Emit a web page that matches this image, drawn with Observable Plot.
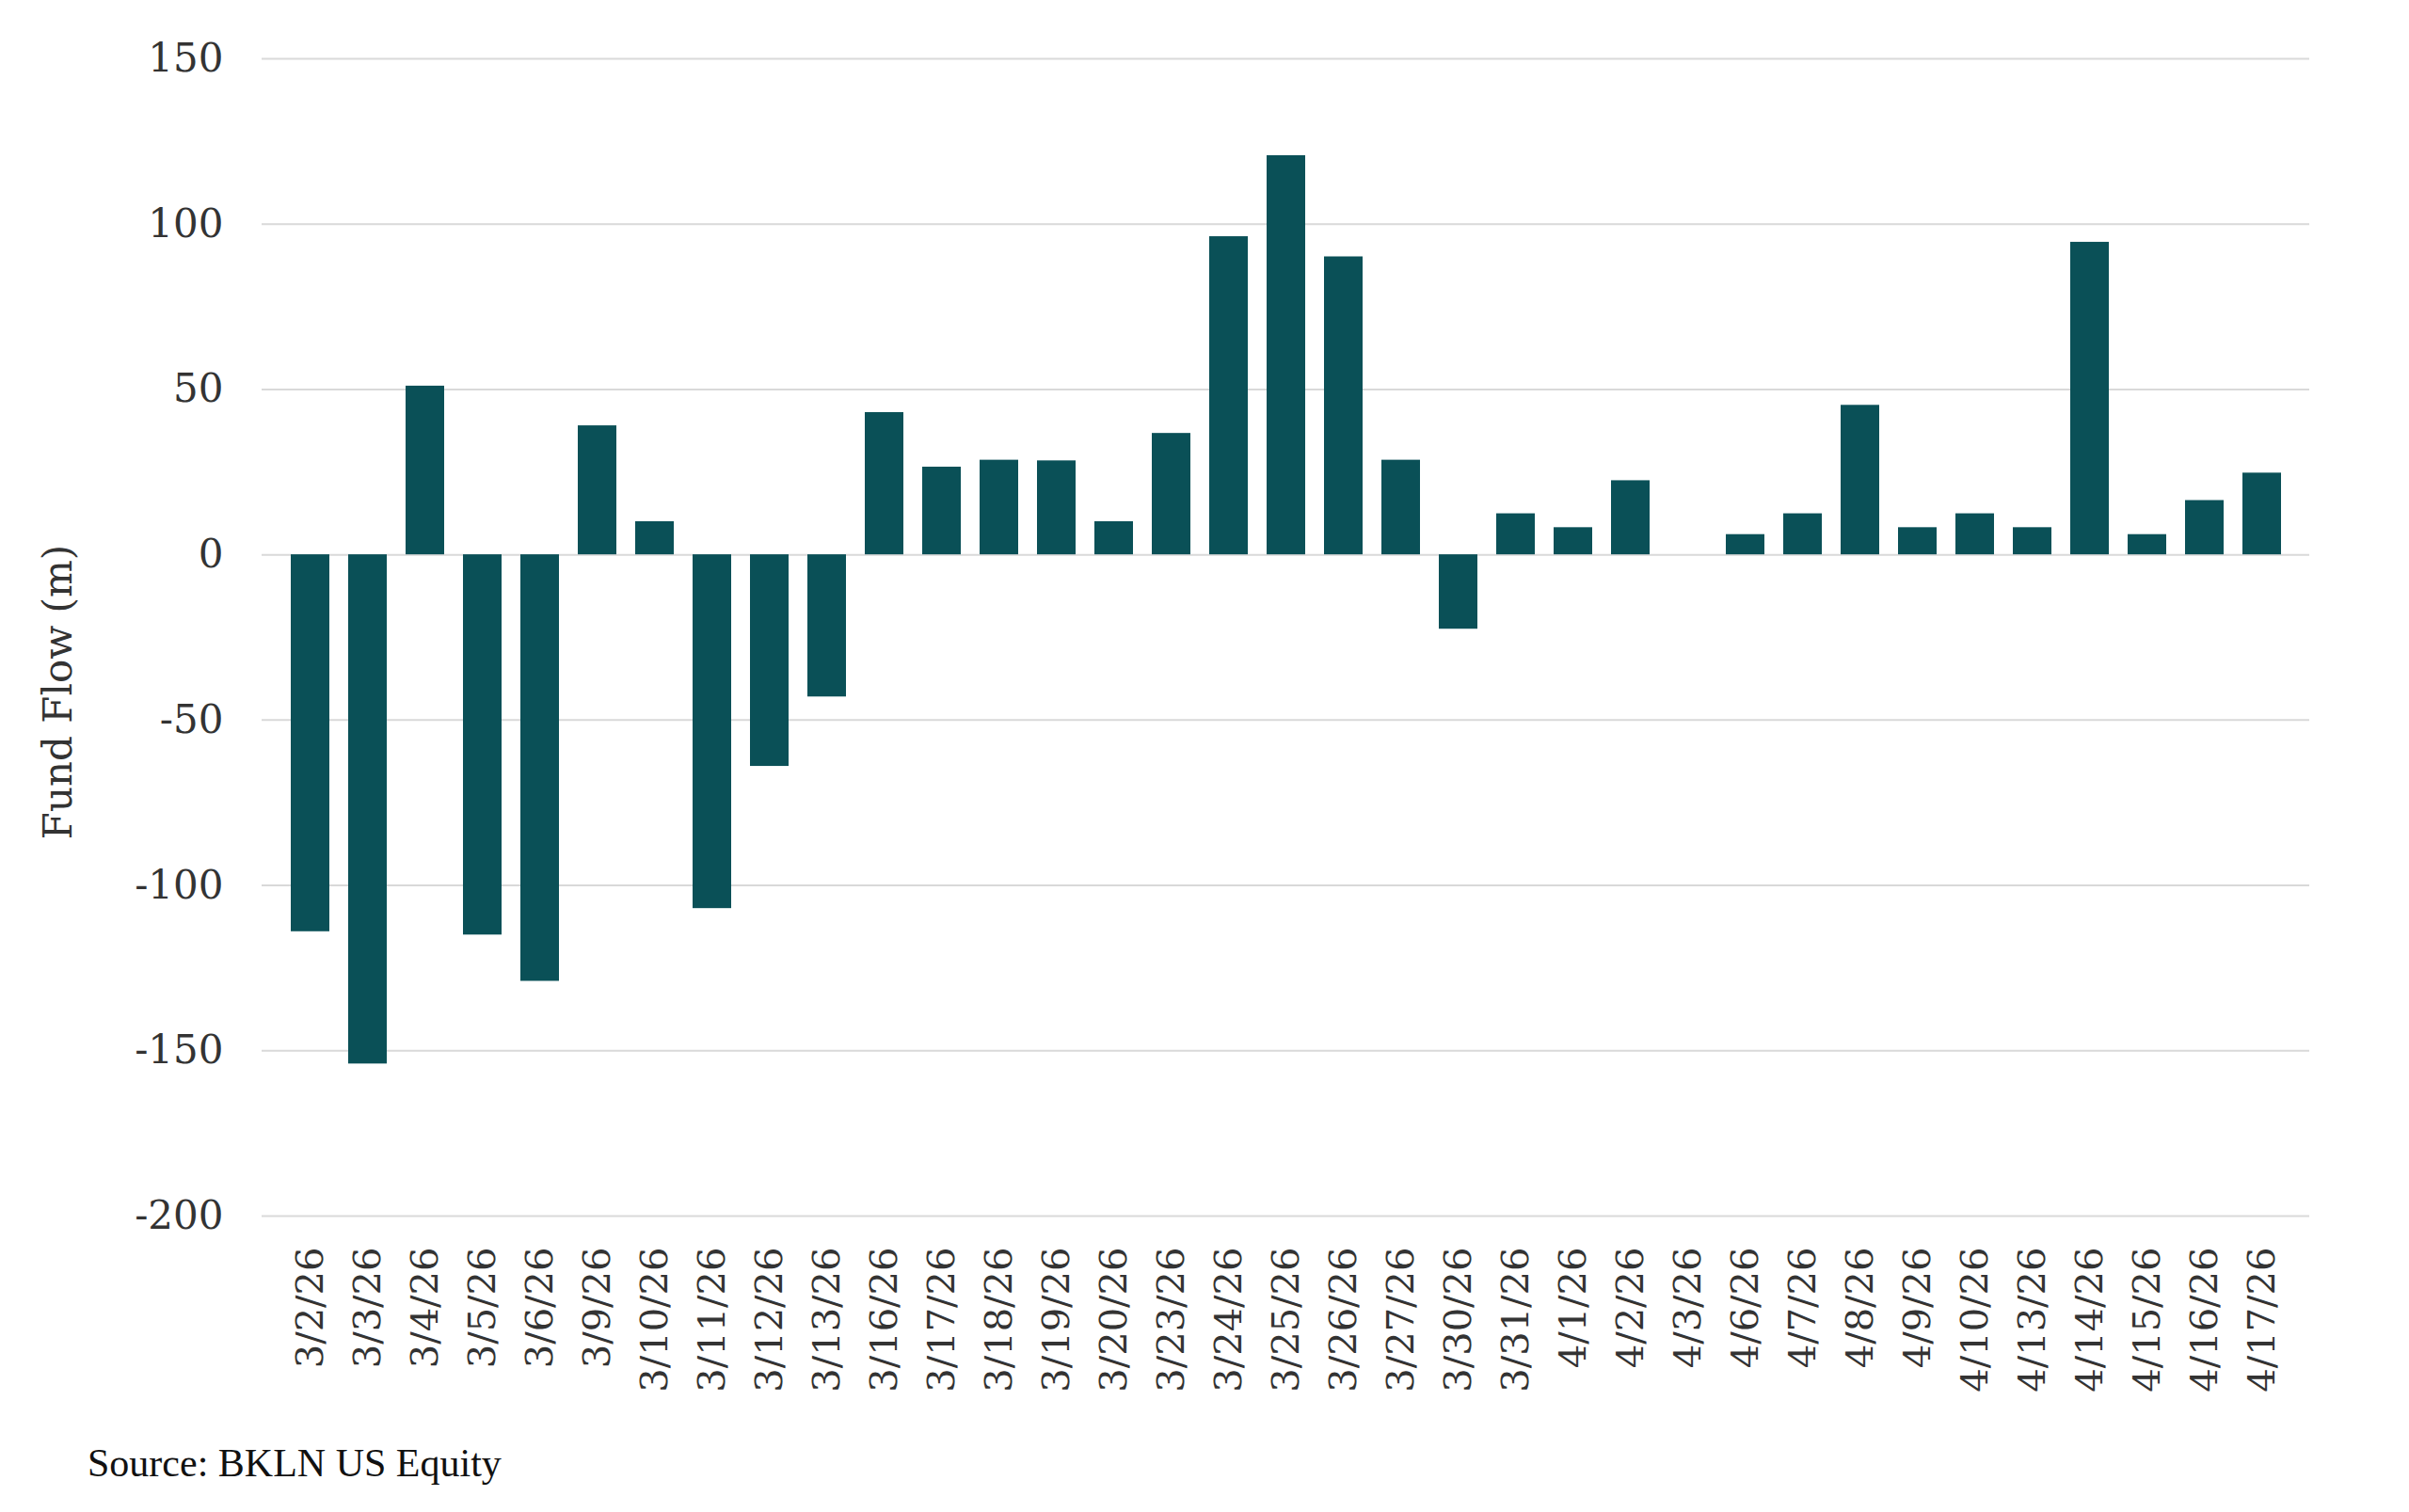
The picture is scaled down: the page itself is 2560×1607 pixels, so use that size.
<!DOCTYPE html>
<html><head><meta charset="utf-8">
<script src="https://cdn.jsdelivr.net/npm/d3@7"></script>
<script src="https://cdn.jsdelivr.net/npm/@observablehq/plot@0.6"></script>
<style>
html,body{margin:0;padding:0;background:#fff;width:2560px;height:1607px;overflow:hidden;}
#chart{position:absolute;left:0;top:0;}
#source{position:absolute;left:93px;top:1534px;font-family:"Liberation Serif",serif;font-size:42px;line-height:1;color:#111;}
</style></head><body>
<div id="chart"></div>
<div id="source">Source: BKLN US Equity</div>
<script>
const dates = ["3/2/26","3/3/26","3/4/26","3/5/26","3/6/26","3/9/26","3/10/26","3/11/26","3/12/26","3/13/26",
  "3/16/26","3/17/26","3/18/26","3/19/26","3/20/26","3/23/26","3/24/26","3/25/26","3/26/26","3/27/26",
  "3/30/26","3/31/26","4/1/26","4/2/26","4/3/26","4/6/26","4/7/26","4/8/26","4/9/26","4/10/26",
  "4/13/26","4/14/26","4/15/26","4/16/26","4/17/26"];
const flows = [-114,-154,51,-115,-129,39,10,-107,-64,-43,
  43,26.5,28.6,28.4,10,36.7,96.2,120.7,90.1,28.6,
  -22.5,12.4,8.2,22.4,0,6.1,12.4,45.2,8.2,12.4,
  8.2,94.5,6.1,16.4,24.7];
const yTicks = [-200,-150,-100,-50,0,50,100,150];
const yLabel = "Fund Flow (m)";
const data = dates.map((d,i)=>({date:d, flow:flows[i]}));
const plot = Plot.plot({
  width:2560, height:1500,
  marginLeft:278, marginRight:106, marginTop:62, marginBottom:208,
  style:{fontFamily:"DejaVu Serif", fontSize:"40px", color:"#333", background:"#fff"},
  x:{domain:dates, padding:0.33, label:null},
  y:{domain:[-200,150], label:null},
  marks:[
    Plot.gridY(yTicks,{stroke:"#d9d9d9", strokeOpacity:1, strokeWidth:2}),
    Plot.barY(data,{x:"date", y:"flow", fill:"#0a5057"}),
    Plot.axisY(yTicks,{tickSize:0, tickPadding:41, fontSize:42, label:null, tickFormat:d => String(d)}),
    Plot.text([yLabel],{text:d => d, frameAnchor:"left", textAnchor:"middle", dx:-216, dy:58, rotate:-90, fontSize:42, fill:"#333"}),
    Plot.axisX({tickSize:0, tickPadding:33, tickRotate:-90, label:null, fontSize:40})
  ]
});
document.getElementById("chart").appendChild(plot);
</script>
</body></html>
